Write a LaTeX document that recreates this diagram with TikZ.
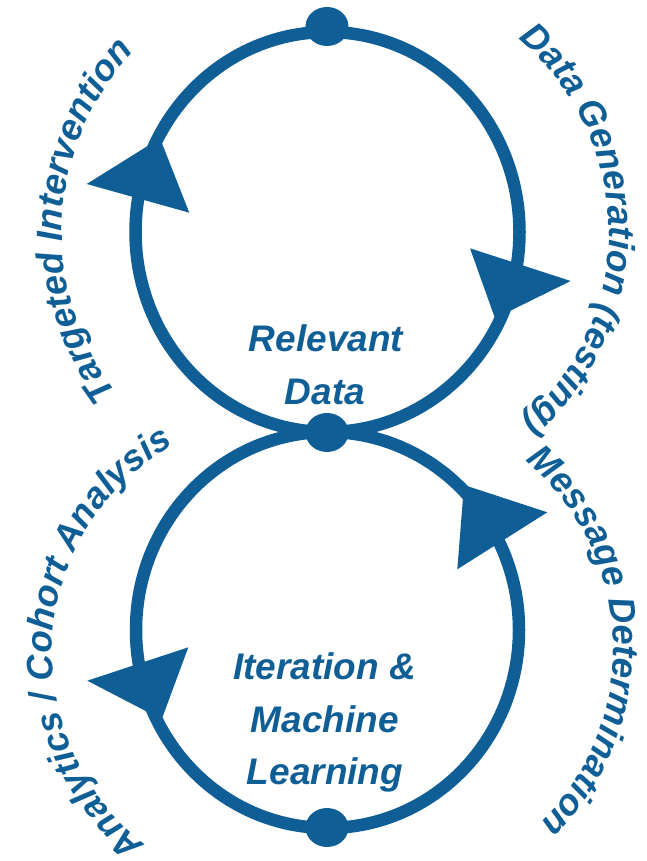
\documentclass[tikz,border=0pt]{standalone}
\usepackage{fontspec}
\setmainfont{Liberation Sans}
\usetikzlibrary{decorations.text}
\definecolor{brandblue}{RGB}{15,94,150}
\newcommand\myarcfont{\fontsize{36.5}{40}\selectfont\bfseries\itshape\color{brandblue}}
\begin{document}
\begin{tikzpicture}[x=1pt,y=1pt,
  loopline/.style={draw=brandblue, line width=12.5pt},
  headfill/.style={fill=brandblue},
  dotfill/.style={fill=brandblue},
  centertext/.style={text=brandblue, font=\fontsize{37}{53}\selectfont\bfseries\itshape, anchor=base, inner sep=0pt}]
\useasboundingbox (0,0) rectangle (646,861);
% loops
\draw[loopline] (327.5,629) ellipse[x radius=192, y radius=200];
\draw[loopline] (327.5,231) ellipse[x radius=191.5, y radius=198];
% arrow heads
\fill[headfill] (86.7,677) -- (160,722.7) -- (189.3,648.3) -- cycle;
\fill[headfill] (470,612.7) -- (570.7,580) -- (495,542.7) -- cycle;
\fill[headfill] (464,376) -- (547.3,348.7) -- (457.3,291.7) -- cycle;
\fill[headfill] (188.3,213.7) -- (87.3,180.3) -- (161.7,141.7) -- cycle;
% dots
\fill[dotfill] (327,834.5) ellipse[x radius=21.5, y radius=19.5];
\fill[dotfill] (327,428.5) ellipse[x radius=21.5, y radius=19.5];
\fill[dotfill] (327,33.5) ellipse[x radius=21.5, y radius=19.5];
% centre texts
\node[centertext] (rel) at (326,509) {Relevant};
\node[centertext] (dat) at (325,456) {Data};
\node[centertext] (ite) at (324.5,181) {Iteration \&};
\node[centertext] (mac) at (325,128) {Machine};
\node[centertext] (lea) at (325,76) {Learning};
% curved texts
\path[decorate, decoration={text along path, text align=center,
  text={|\myarcfont|Targeted Intervention}}]
  (326,628) ++(237:264) arc[start angle=237, end angle=117, radius=264];
\path[decorate, decoration={text along path, text align=center,
  text={|\myarcfont|Data Generation (testing)}}]
  (359,629) ++(60.5:250) arc[start angle=60.5, end angle=-59.5, radius=250];
\path[decorate, decoration={text along path, text align=center,
  text={|\myarcfont|Analytics / Cohort Analysis}}]
  (293,207) ++(245.9:241) arc[start angle=245.9, end angle=105.9, radius=241];
\path[decorate, decoration={text along path, text align=center,
  text={|\myarcfont|Message Determination}}]
  (369.5,212) ++(62.3:244) arc[start angle=62.3, end angle=-57.7, radius=244];
\end{tikzpicture}
\end{document}
